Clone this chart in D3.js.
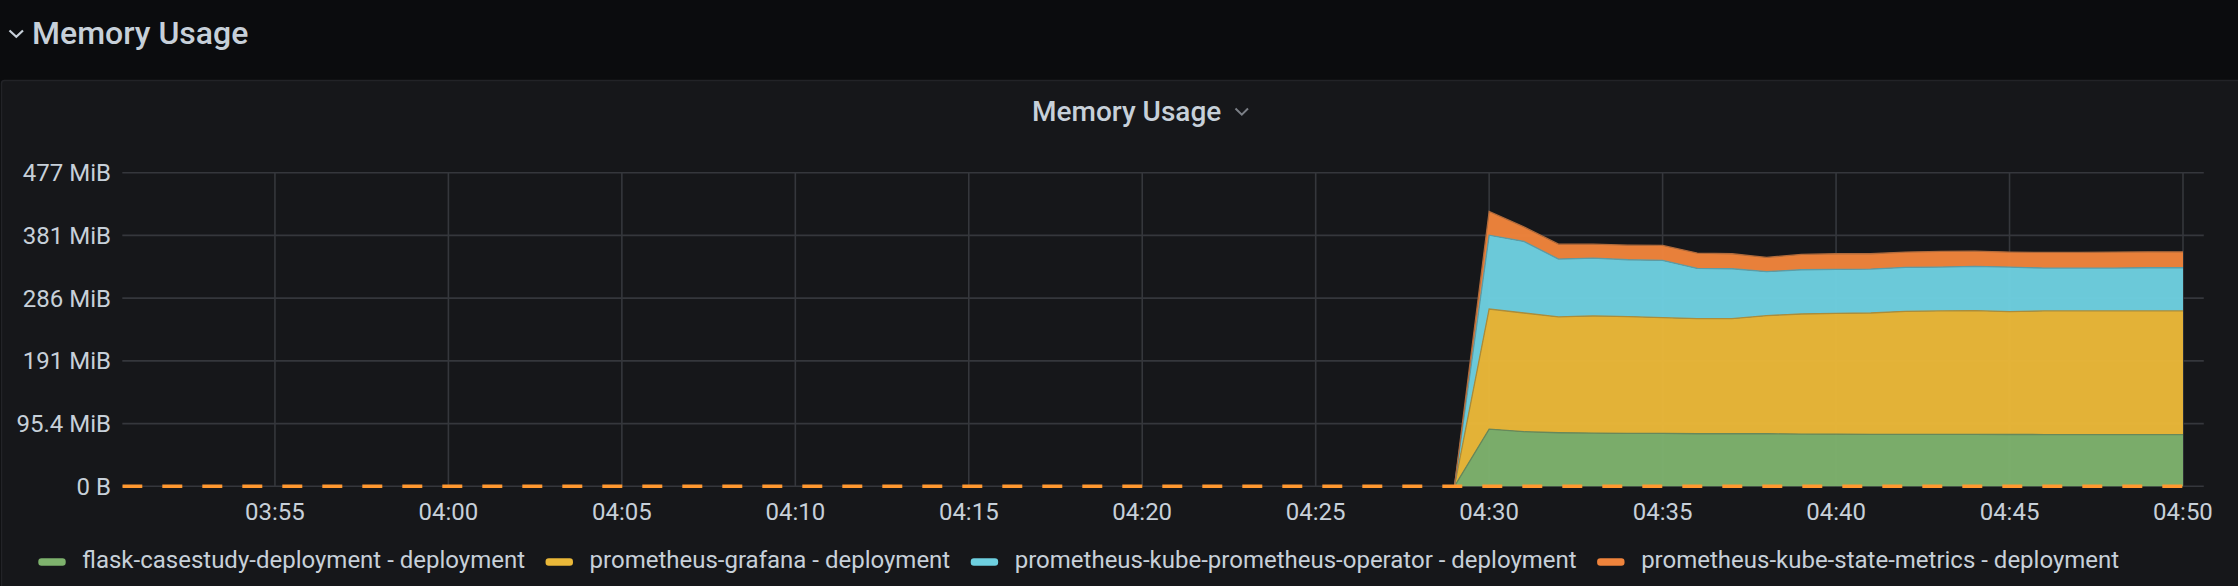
<!DOCTYPE html>
<html><head><meta charset="utf-8">
<script src="https://cdn.jsdelivr.net/npm/d3@7"></script>
<style>
html,body{margin:0;padding:0;background:#0b0c0e;overflow:hidden;}
svg{display:block;font-family:Roboto,"Noto Sans",sans-serif;}
</style></head><body>
<svg id="chart" width="2238" height="586"></svg>
<script>
// ---- data (values in MiB, one point per minute) ----
const times = ["04:29","04:30","04:31","04:32","04:33","04:34","04:35","04:36","04:37","04:38","04:39",
               "04:40","04:41","04:42","04:43","04:44","04:45","04:46","04:47","04:48","04:49","04:50"];
const flask        = [0, 87.0, 83.0, 81.4, 80.9, 80.4, 80.4, 79.9, 79.9, 79.9, 79.4, 79.2, 79.0, 78.9, 78.9, 78.9, 78.8, 78.7, 78.7, 78.6, 78.6, 78.6];
const grafana      = [0, 182.6, 180.5, 176.1, 178.1, 177.6, 176.0, 175.0, 175.0, 179.6, 182.6, 183.8, 184.5, 187.2, 187.7, 188.2, 186.8, 187.9, 187.9, 188.0, 188.0, 188.0];
const operator     = [0, 112.3, 108.8, 88.0, 88.0, 86.5, 87.1, 76.4, 75.9, 66.8, 67.3, 66.8, 66.8, 66.7, 66.7, 67.2, 67.7, 65.2, 65.2, 65.2, 65.7, 65.7];
const stateMetrics = [0, 35.9, 22.2, 22.7, 21.2, 22.2, 22.7, 23.3, 22.8, 21.7, 23.3, 23.8, 23.3, 23.3, 23.8, 23.3, 22.8, 23.8, 23.8, 24.3, 24.3, 24.3];
const seriesNames = ["flask-casestudy-deployment - deployment", "prometheus-grafana - deployment",
                     "prometheus-kube-prometheus-operator - deployment", "prometheus-kube-state-metrics - deployment"];
const seriesColors = ["#7EB26D", "#EAB839", "#6ED0E0", "#EF843C"];
const zeroLineTimes = ["03:50", "04:50"];
const zeroLineValues = [0, 0];
const xDomain = ["03:50:36", "04:50:36"];
const yTickBytes = [0, 100e6, 200e6, 300e6, 400e6, 500e6];
const rowTitle = "Memory Usage";
const panelTitle = "Memory Usage";

// ---- layout ----
const W = 2238, H = 586;
const plot = {left: 122.3, right: 2203.8, top: 172.7, bottom: 486.3};
const textColor = "#c7d0d9";
const gridColor = "#35373c";

const parseT = d3.utcParse("%H:%M");
const parseTS = d3.utcParse("%H:%M:%S");
const toMiB = b => b / 1048576;

const x = d3.scaleUtc().domain(xDomain.map(parseTS)).range([plot.left, plot.right]);
const y = d3.scaleLinear().domain([0, toMiB(yTickBytes[yTickBytes.length - 1])]).range([plot.bottom, plot.top]);

const svg = d3.select("#chart");

// row header
svg.append("rect").attr("width", W).attr("height", H).attr("fill", "#0b0c0e");
svg.append("path").attr("d", "M9.5,30.5 L16.3,36.8 L23,30.5")
  .attr("fill", "none").attr("stroke", textColor).attr("stroke-width", 2.2);
svg.append("text").attr("x", 32).attr("y", 44).attr("fill", textColor)
  .attr("font-size", 32).attr("font-weight", 500).text(rowTitle);

// panel
svg.append("rect").attr("x", 1.5).attr("y", 80.5).attr("width", W + 10).attr("height", 600)
  .attr("rx", 3).attr("fill", "#16171a").attr("stroke", "#222327").attr("stroke-width", 1.5);

// panel title
svg.append("text").attr("x", 1032).attr("y", 120.5).attr("fill", textColor)
  .attr("font-size", 28).attr("font-weight", 500).text(panelTitle);
svg.append("path").attr("d", "M1235.5,108.5 L1241.8,114.6 L1248,108.5")
  .attr("fill", "none").attr("stroke", "#7b7f86").attr("stroke-width", 2);

// grid
const yTicks = yTickBytes.map(toMiB);
const xTicks = x.ticks(d3.utcMinute.every(5));
const g = svg.append("g");
g.selectAll("line.hg").data(yTicks).join("line")
  .attr("x1", plot.left).attr("x2", plot.right)
  .attr("y1", d => y(d)).attr("y2", d => y(d))
  .attr("stroke", gridColor).attr("stroke-width", 1.6);
g.selectAll("line.vg").data(xTicks).join("line")
  .attr("x1", d => x(d)).attr("x2", d => x(d))
  .attr("y1", plot.top).attr("y2", plot.bottom)
  .attr("stroke", gridColor).attr("stroke-width", 1.6);

// stacked areas
const rows = times.map((t, i) => ({t: parseT(t), s0: flask[i], s1: grafana[i], s2: operator[i], s3: stateMetrics[i]}));
const keys = ["s0", "s1", "s2", "s3"];
const stacked = d3.stack().keys(keys)(rows);
const area = d3.area().x(d => x(d.data.t)).y0(d => y(d[0])).y1(d => y(d[1]));
const topLine = d3.line().x(d => x(d.data.t)).y(d => y(d[1]));
svg.append("g").selectAll("path").data(stacked).join("path")
  .attr("d", area).attr("fill", (d, i) => seriesColors[i]).attr("fill-opacity", 0.97);
svg.append("g").selectAll("path").data(stacked).join("path")
  .attr("d", topLine).attr("fill", "none")
  .attr("stroke", (d, i) => d3.interpolateRgb(seriesColors[i], "#3a3a3a")(0.35))
  .attr("stroke-width", 1.3);

// zero dashed line
const zeroPts = zeroLineTimes.map((t, i) => [x(parseT(t)), y(zeroLineValues[i])]);
const clipId = "plotclip";
svg.append("clipPath").attr("id", clipId).append("rect")
  .attr("x", plot.left).attr("y", plot.top - 5).attr("width", plot.right - plot.left).attr("height", plot.bottom - plot.top + 10);
const off = (40 - ((plot.left - zeroPts[0][0]) % 40)) % 40;
svg.append("path").attr("clip-path", `url(#${clipId})`)
  .attr("d", d3.line()(zeroPts)).attr("fill", "none")
  .attr("stroke", "#FF9830").attr("stroke-width", 3.6)
  .attr("stroke-dasharray", "20,20").attr("stroke-dashoffset", off);

// y axis labels
const fmtY = v => v === 0 ? "0 B" : d3.format(".3~r")(v) + " MiB";
svg.append("g").selectAll("text").data(yTicks).join("text")
  .attr("x", 111).attr("y", d => y(d) + 8.5).attr("text-anchor", "end")
  .attr("fill", textColor).attr("font-size", 24).text(fmtY);

// x axis labels
const fmtX = d3.utcFormat("%H:%M");
svg.append("g").selectAll("text").data(xTicks).join("text")
  .attr("x", d => x(d)).attr("y", 520).attr("text-anchor", "middle")
  .attr("fill", textColor).attr("font-size", 24).text(fmtX);

// legend
const lg = svg.append("g");
let lx = 38.3;
seriesNames.forEach((name, i) => {
  lg.append("rect").attr("x", lx).attr("y", 558.3).attr("width", 27.4).attr("height", 7.4)
    .attr("rx", 3.2).attr("fill", seriesColors[i]);
  const t = lg.append("text").attr("x", lx + 44).attr("y", 567.5).attr("fill", textColor)
    .attr("font-size", 24).text(name);
  lx = lx + 44 + t.node().getComputedTextLength() + 20.5;
});
</script>
</body></html>
